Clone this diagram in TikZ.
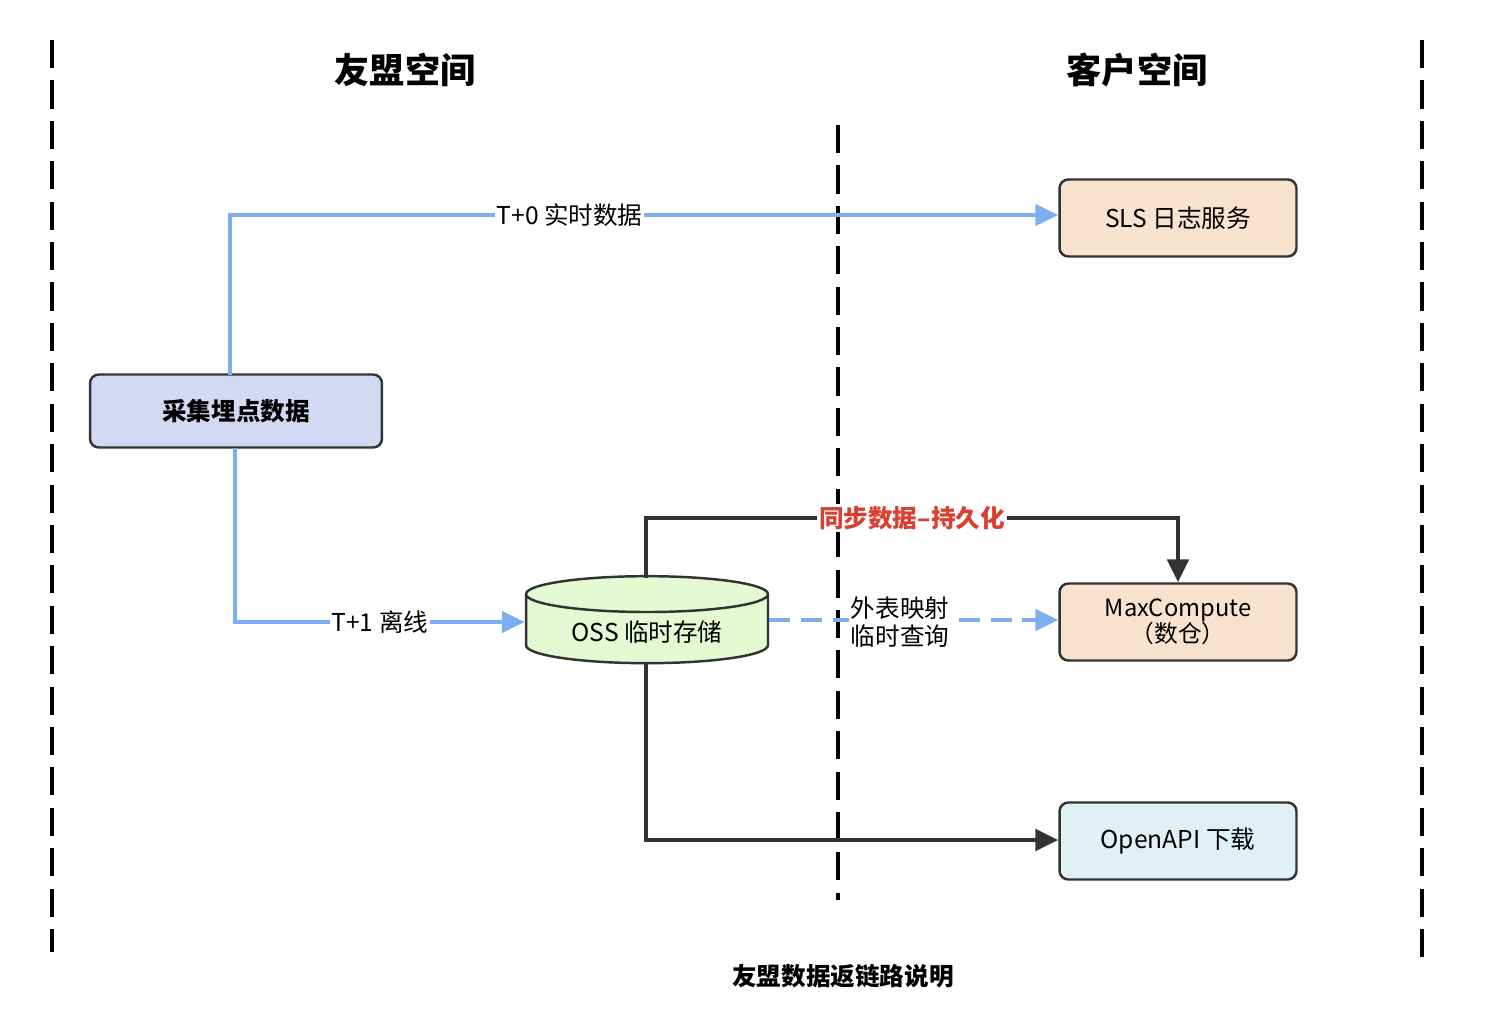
\documentclass[tikz,border=0pt]{standalone}
\usepackage{fontspec}
\setmainfont{Noto Sans CJK SC}
\usepackage{tikz}
\usetikzlibrary{shapes.geometric,arrows.meta}
\definecolor{bluel}{HTML}{7EAEF0}
\definecolor{lav}{HTML}{D4D9F3}
\definecolor{peach}{HTML}{F8E3CF}
\definecolor{icy}{HTML}{E0F1F5}
\definecolor{mint}{HTML}{E3FAD3}
\definecolor{redl}{HTML}{D9402F}
\tikzset{
  box/.style={draw=black!80,line width=1.4pt,rounded corners=5pt,minimum width=4.74cm,minimum height=1.54cm,font=\fontsize{14}{16}\selectfont,align=center},
  sep/.style={line width=2.4pt,dash pattern=on 16pt off 7pt},
  blueline/.style={draw=bluel,line width=2.4pt,-{Triangle[length=13pt,width=12pt]}},
  blackline/.style={draw=black!80,line width=2.4pt,-{Triangle[length=13pt,width=12pt]}},
  lbl/.style={fill=white,inner sep=1pt,font=\fontsize{14}{16}\selectfont}
}
\begin{document}
\begin{tikzpicture}[x=0.02cm,y=-0.02cm]
\useasboundingbox (0,0) rectangle (1488,1028);
% separators
\draw[sep] (52,40) -- (52,952);
\draw[sep] (1422,40) -- (1422,962);
\draw[sep] (838,125) -- (838,900);
\node[font=\bfseries\fontsize{20}{22}\selectfont] (left) at (405,70) {友盟空间};
\node[font=\bfseries\fontsize{20}{22}\selectfont] (right) at (1137,70) {客户空间};

% nodes
\node[box,fill=lav,minimum width=5.84cm,minimum height=1.46cm,font=\bfseries\fontsize{14}{16}\selectfont] (src) at (236,411) {采集埋点数据};
\node[box,fill=peach] (sls) at (1178,218) {SLS 日志服务};
\node[box,fill=peach,inner sep=1pt,font=\fontsize{13.5}{15}\selectfont] (mc) at (1178,622) {MaxCompute\\（数仓）};
\node[box,fill=icy] (api) at (1178,841) {OpenAPI 下载};
\node[draw=black!80,line width=1.4pt,cylinder,shape border rotate=90,aspect=0.22,fill=mint,
  minimum width=4.84cm,minimum height=1.74cm,font=\fontsize{14}{16}\selectfont] (oss) at (647,632) {OSS 临时存储};
\coordinate (ossbot) at (646,663);

% connectors
\draw[blueline] (230,375) -- (230,215) -- node[lbl,pos=0.41]{T+0 实时数据} (sls.west |- 0,215);
\draw[blueline] (235,448) -- (235,622) -- node[lbl,pos=0.5]{T+1 离线} (oss.west |- 0,622);
\draw[blackline] (646,578) -- (646,518) -- node[lbl,pos=0.5,text=redl,font=\bfseries\fontsize{14}{16}\selectfont]{同步数据–持久化} (1178,518) -- (mc.north);
\draw[draw=bluel,line width=2.4pt,dash pattern=on 12pt off 6pt,-{Triangle[length=13pt,width=12pt]}] (oss.east |- 0,620) -- (mc.west |- 0,620);
\node[lbl,align=left] (ext) at (900,622) {外表映射\\临时查询};
\draw[blackline] (ossbot) -- (646,840) -- (api.west |- 0,840);

\node[font=\bfseries\fontsize{14}{16}\selectfont] (cap) at (843,976) {友盟数据返链路说明};
\end{tikzpicture}
\end{document}
